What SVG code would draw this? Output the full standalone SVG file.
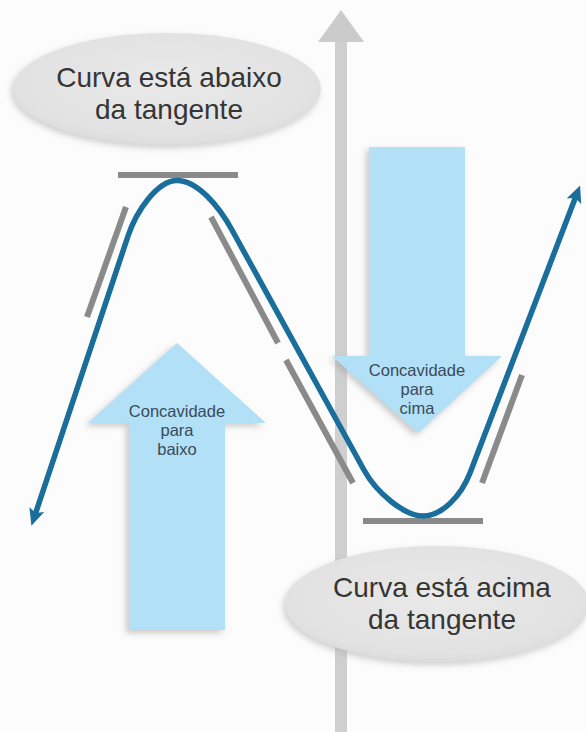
<svg xmlns="http://www.w3.org/2000/svg" width="586" height="732" viewBox="0 0 586 732">
  <defs>
    <style>
      .bubble { fill: url(#bubbleGrad); filter: url(#softShadow); }
      .bubbleText { font-family: "Liberation Sans", Arial, sans-serif; font-size: 28px; fill: #353535; text-anchor: middle; }
      .bigArrow { fill: #b1e0f7; filter: url(#arrowShadow); }
      .arrowText { font-family: "Liberation Sans", Arial, sans-serif; font-size: 16.5px; fill: #3b4a5a; text-anchor: middle; }
      .tangent { stroke: #8a8a8a; stroke-width: 6; fill: none; }
      .curve { stroke: #1a6e9c; stroke-width: 5.5; fill: none; stroke-linejoin: round; }
    </style>
    <radialGradient id="bubbleGrad" cx="0.5" cy="0.45" r="0.6">
      <stop offset="0" stop-color="#e9e9e9"/>
      <stop offset="0.8" stop-color="#e2e2e2"/>
      <stop offset="1" stop-color="#d8d8d8"/>
    </radialGradient>
    <filter id="softShadow" x="-20%" y="-30%" width="140%" height="160%">
      <feDropShadow dx="-2" dy="3" stdDeviation="3" flood-color="#b0b0b0" flood-opacity="0.6"/>
    </filter>
    <filter id="arrowShadow" x="-20%" y="-20%" width="140%" height="140%">
      <feDropShadow dx="-3" dy="3" stdDeviation="3" flood-color="#a0a0a0" flood-opacity="0.55"/>
    </filter>
    <marker id="curveHead" viewBox="0 0 12 12" refX="4" refY="6" markerWidth="17" markerHeight="17" orient="auto-start-reverse" markerUnits="userSpaceOnUse">
      <path d="M0,0.5 L12,6 L0,11.5 L2.5,6 z" fill="#1a6e9c"/>
    </marker>
  </defs>

  <rect x="0" y="0" width="586" height="732" fill="#fcfcfc"/>

  <g id="axis">
    <rect x="335" y="40" width="12" height="692" fill="#cfcfcf"/>
    <polygon points="318,42 364,42 341,10" fill="#cbcbcb"/>
  </g>

  <g id="arrow-down">
    <polygon class="bigArrow" points="369,147 465,147 465,356 502,356 418,433 332,356 369,356"/>
    <text class="arrowText" x="417" y="376">Concavidade</text>
    <text class="arrowText" x="417" y="395">para</text>
    <text class="arrowText" x="417" y="414">cima</text>
  </g>

  <g id="arrow-up">
    <polygon class="bigArrow" points="177,343 266,423 225,423 225,630 129,630 129,423 88,423"/>
    <text class="arrowText" x="177" y="417">Concavidade</text>
    <text class="arrowText" x="177" y="436">para</text>
    <text class="arrowText" x="177" y="455">baixo</text>
  </g>

  <g id="bubble-top">
    <ellipse class="bubble" cx="167" cy="89" rx="154" ry="56"/>
    <text class="bubbleText" x="169" y="87">Curva está abaixo</text>
    <text class="bubbleText" x="169" y="119">da tangente</text>
  </g>

  <g id="bubble-bottom">
    <ellipse class="bubble" cx="437" cy="604" rx="152" ry="58"/>
    <text class="bubbleText" x="442" y="597">Curva está acima</text>
    <text class="bubbleText" x="442" y="629">da tangente</text>
  </g>

  <g id="tangents">
    <line class="tangent" x1="118" y1="175" x2="238" y2="175"/>
    <line class="tangent" x1="126" y1="207" x2="87" y2="317"/>
    <line class="tangent" x1="211" y1="217" x2="278" y2="343"/>
    <line class="tangent" x1="286" y1="360" x2="353" y2="483"/>
    <line class="tangent" x1="522" y1="375" x2="482" y2="483"/>
    <line class="tangent" x1="363" y1="521" x2="483" y2="521"/>
  </g>

  <g id="curve">
    <path class="curve" marker-start="url(#curveHead)" marker-end="url(#curveHead)"
      d="M 35 515 L 128 236 C 136 212, 157 180.5, 177 180.5 C 197 180.5, 218.5 205.5, 232 230 L 364 470 C 376 492, 404 516, 423 516 C 442 516, 461 496, 470 473 L 576 196"/>
  </g>
</svg>
